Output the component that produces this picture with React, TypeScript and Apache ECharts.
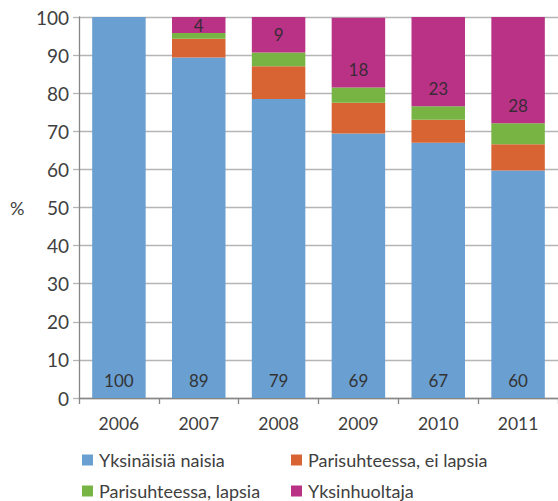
import React, { useEffect, useRef } from "react";
import * as echarts from "echarts";

const years = ["2006", "2007", "2008", "2009", "2010", "2011"];
const seriesNames = ["Yksinäisiä naisia", "Parisuhteessa, ei lapsia", "Parisuhteessa, lapsia", "Yksinhuoltaja"];
const yksinaisia = [100, 89.4, 78.5, 69.4, 67.0, 59.7];
const eiLapsia = [0, 4.9, 8.6, 8.1, 6.0, 6.9];
const lapsia = [0, 1.5, 3.6, 4.0, 3.6, 5.5];
const yksinhuoltaja = [0, 4.2, 9.3, 18.3, 23.4, 27.9];
const colors = ["#6a9fd2", "#d86434", "#78b443", "#b93286"];

const FONT = "Lato";
const TEXT = "#404040";

export default function App() {
  const ref = useRef<HTMLDivElement>(null);
  useEffect(() => {
    if (!ref.current) return;
    const chart = echarts.init(ref.current, null, { renderer: "svg" });
    const labelStyle = { color: "#333", fontFamily: FONT, fontSize: 17 };
    const legendPos = [
      { left: 82, top: 451 },
      { left: 291, top: 451 },
      { left: 82, top: 482 },
      { left: 291, top: 482 },
    ];
    chart.setOption({
      animation: false,
      color: colors,
      grid: { left: 79, top: 17, width: 484, height: 381 },
      graphic: [
        {
          type: "text",
          left: 10,
          top: 199,
          style: { text: "%", fontFamily: FONT, fontSize: 18, fill: TEXT },
        },
      ],
      legend: seriesNames.map((n, i) => ({
        data: [n],
        left: legendPos[i].left,
        top: legendPos[i].top,
        itemWidth: 11,
        itemHeight: 11,
        icon: "rect",
        padding: 0,
        textStyle: { fontFamily: FONT, fontSize: 18, color: TEXT, padding: [0, 0, 0, 1] },
      })),
      xAxis: {
        type: "category",
        data: years,
        axisLine: { lineStyle: { color: "#868686", width: 1.3 } },
        axisTick: { show: true, length: 6, lineStyle: { color: "#868686", width: 1.3 } },
        axisLabel: { color: TEXT, fontFamily: FONT, fontSize: 17.5, margin: 16 },
      },
      yAxis: {
        type: "value",
        min: 0,
        max: 100,
        interval: 10,
        axisLine: { show: true, lineStyle: { color: "#868686", width: 1.3 } },
        axisTick: { show: true, length: 6, lineStyle: { color: "#b5b5b5", width: 1.3 } },
        axisLabel: { color: TEXT, fontFamily: FONT, fontSize: 19, margin: 10 },
        splitLine: { lineStyle: { color: "#b5b5b5", width: 1.3 } },
      },
      series: [
        {
          name: seriesNames[0],
          type: "bar",
          stack: "s",
          barCategoryGap: "33%",
          data: yksinaisia,
          label: {
            show: true,
            position: "insideBottom",
            distance: 9,
            formatter: (p: any) => String(Math.round(p.value)),
            ...labelStyle,
          },
        },
        { name: seriesNames[1], type: "bar", stack: "s", data: eiLapsia },
        { name: seriesNames[2], type: "bar", stack: "s", data: lapsia },
        {
          name: seriesNames[3],
          type: "bar",
          stack: "s",
          data: yksinhuoltaja.map((v, i) =>
            i === 1 ? { value: v, label: { position: "inside", distance: 0 } } : v
          ),
          label: {
            show: true,
            position: "insideBottom",
            distance: 9,
            formatter: (p: any) => (p.value > 0 ? String(Math.round(p.value)) : ""),
            ...labelStyle,
            color: "#3a2a36",
          },
        },
      ],
    });
    return () => chart.dispose();
  }, []);
  return <div ref={ref} style={{ width: 558, height: 501, position: "absolute", left: 0, top: 0 }} />;
}
